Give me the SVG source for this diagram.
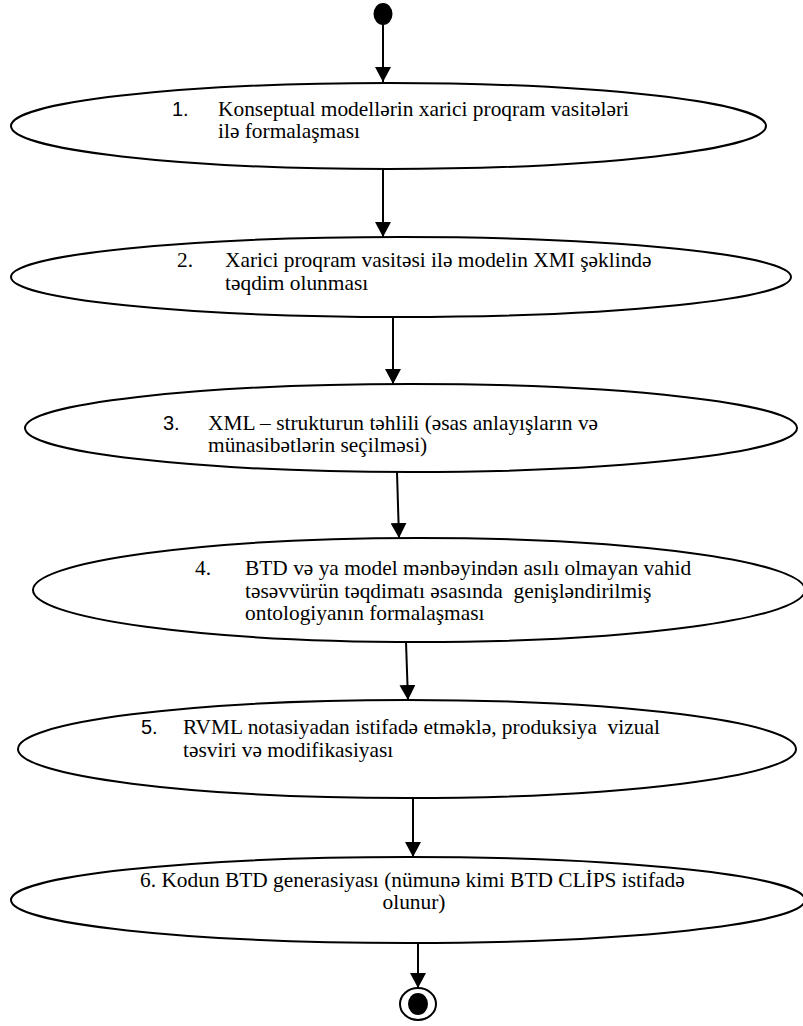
<svg xmlns="http://www.w3.org/2000/svg" width="803" height="1026" viewBox="0 0 803 1026">
<style>
.node ellipse{fill:#fff;stroke:#000;stroke-width:2}
.t{font-family:"Liberation Serif","Times New Roman",serif;font-size:21.4px;fill:#000;white-space:pre}
.n{font-family:"Liberation Sans",Arial,sans-serif;font-size:20px;fill:#000}
.conn line{stroke:#000;stroke-width:2;marker-end:url(#arr)}
</style>
<defs>
<marker id="arr" markerUnits="userSpaceOnUse" markerWidth="16" markerHeight="16" refX="15" refY="8" orient="auto">
<path d="M0,0 L15,8 L0,16 Z" fill="#000"/>
</marker>
</defs>
<rect width="803" height="1026" fill="#fff"/>
<g id="connectors" class="conn">
<line x1="383" y1="24" x2="383" y2="82"/>
<line x1="383" y1="168" x2="383" y2="237"/>
<line x1="393" y1="317" x2="393" y2="384"/>
<line x1="397" y1="472" x2="399" y2="538"/>
<line x1="406" y1="642" x2="408" y2="700"/>
<line x1="413" y1="798" x2="413" y2="857"/>
<line x1="418" y1="943" x2="418" y2="988"/>
</g>
<g id="start"><ellipse cx="383" cy="14" rx="9.5" ry="11" fill="#000"/></g>
<g id="n1" class="node">
<ellipse cx="388.5" cy="126" rx="377.5" ry="43"/>
<text class="n" x="172" y="116">1.</text>
<text class="t" x="218" y="116">Konseptual modellərin xarici proqram vasitələri</text>
<text class="t" x="218" y="138">ilə formalaşması</text>
</g>
<g id="n2" class="node">
<ellipse cx="401" cy="277" rx="390" ry="40"/>
<text class="t" x="177" y="267">2.</text>
<text class="t" x="225" y="267">Xarici proqram vasitəsi ilə modelin XMI şəklində</text>
<text class="t" x="225" y="290">təqdim olunması</text>
</g>
<g id="n3" class="node">
<ellipse cx="411" cy="428" rx="386" ry="44"/>
<text class="n" x="163" y="430">3.</text>
<text class="t" x="208" y="430">XML – strukturun təhlili (əsas anlayışların və</text>
<text class="t" x="208" y="452">münasibətlərin seçilməsi)</text>
</g>
<g id="n4" class="node">
<ellipse cx="419" cy="590" rx="386" ry="52"/>
<text class="t" x="195" y="575">4.</text>
<text class="t" x="245" y="575">BTD və ya model mənbəyindən asılı olmayan vahid</text>
<text class="t" x="245" y="598">təsəvvürün təqdimatı əsasında  genişləndirilmiş</text>
<text class="t" x="245" y="620">ontologiyanın formalaşması</text>
</g>
<g id="n5" class="node">
<ellipse cx="407" cy="749" rx="389" ry="49"/>
<text class="n" x="141" y="734">5.</text>
<text class="t" x="183" y="734">RVML notasiyadan istifadə etməklə, produksiya  vizual</text>
<text class="t" x="183" y="757">təsviri və modifikasiyası</text>
</g>
<g id="n6" class="node">
<ellipse cx="408" cy="900" rx="397" ry="43"/>
<text class="t" x="140" y="887">6. Kodun BTD generasiyası (nümunə kimi BTD CLİPS istifadə</text>
<text class="t" x="414" y="909" text-anchor="middle">olunur)</text>
</g>
<g id="end">
<ellipse cx="418" cy="1004" rx="18" ry="16" fill="#fff" stroke="#000" stroke-width="2"/>
<ellipse cx="418" cy="1004" rx="10" ry="11" fill="#000"/>
</g>
</svg>
